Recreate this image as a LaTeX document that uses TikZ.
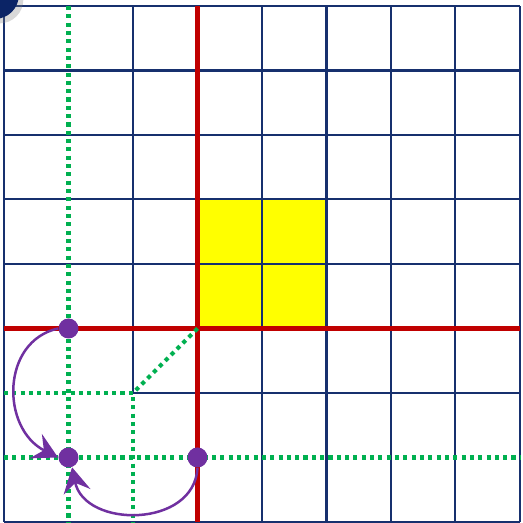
\documentclass[tikz,border=0pt]{standalone}
\usetikzlibrary{arrows.meta,shadows}
\definecolor{gridnavy}{HTML}{17306E}
\definecolor{axisred}{HTML}{C00000}
\definecolor{cellyellow}{HTML}{FFFF00}
\definecolor{guidegreen}{HTML}{00B050}
\definecolor{jumppurple}{HTML}{7030A0}
\definecolor{badgenavy}{HTML}{0B2466}
\tikzset{
  gridline/.style = {draw=gridnavy, line width=0.9pt},
  axis/.style     = {draw=axisred, line width=1.9pt},
  guide/.style    = {draw=guidegreen, line width=1.8pt, dash pattern=on 1.8pt off 1.87pt},
  spot/.style     = {circle, fill=jumppurple, minimum size=0.31cm, inner sep=0pt},
  jump/.style     = {draw=jumppurple, line width=1.1pt,
                     -{Stealth[length=11pt, width=12pt, inset=4pt]}},
}
\begin{document}
\begin{tikzpicture}
  \useasboundingbox (-0.062,-0.016) rectangle (8.047,8.093);
  \fill[white] (-0.062,-0.016) rectangle (8.047,8.093);
  % shaded block
  \fill[cellyellow] (3,3) rectangle (5,5);
  % grid (lines under the guides left out)
  \foreach \k in {0,3,4,...,8}{
    \draw[gridline] (\k,0) -- (\k,8);
    \draw[gridline] (0,\k) -- (8,\k);
  }
  \draw[gridline] (2,2) -- (2,8);
  \draw[gridline] (2,2) -- (8,2);
  % axes
  \draw[axis] (3,0) -- (3,8);
  \draw[axis] (0,3) -- (8,3);
  % guides
  \coordinate (o) at (3,3);
  \coordinate (m) at (2,2);
  \draw[guide] (1,8) -- (1,0);
  \draw[guide] (0,1) -- (8,1);
  \draw[guide] (0,2) -- (m) -- (2,0);
  \draw[guide] (o) -- (m);
  % points and moves
  \node[spot] (a) at (1,3) {};
  \node[spot] (b) at (1,1) {};
  \node[spot] (c) at (3,1) {};
  \draw[jump] (a.west) .. controls (-0.05,2.8) and (-0.05,1.45) .. (b.west);
  \draw[jump] (c.south) .. controls (2.95,-0.1) and (1.25,-0.1) .. (b.-70);
  % corner badge
  \fill[badgenavy, drop shadow={shadow xshift=2pt, shadow yshift=-2pt, opacity=0.3}]
    (-0.14,8.17) circle (0.37);
\end{tikzpicture}
\end{document}
